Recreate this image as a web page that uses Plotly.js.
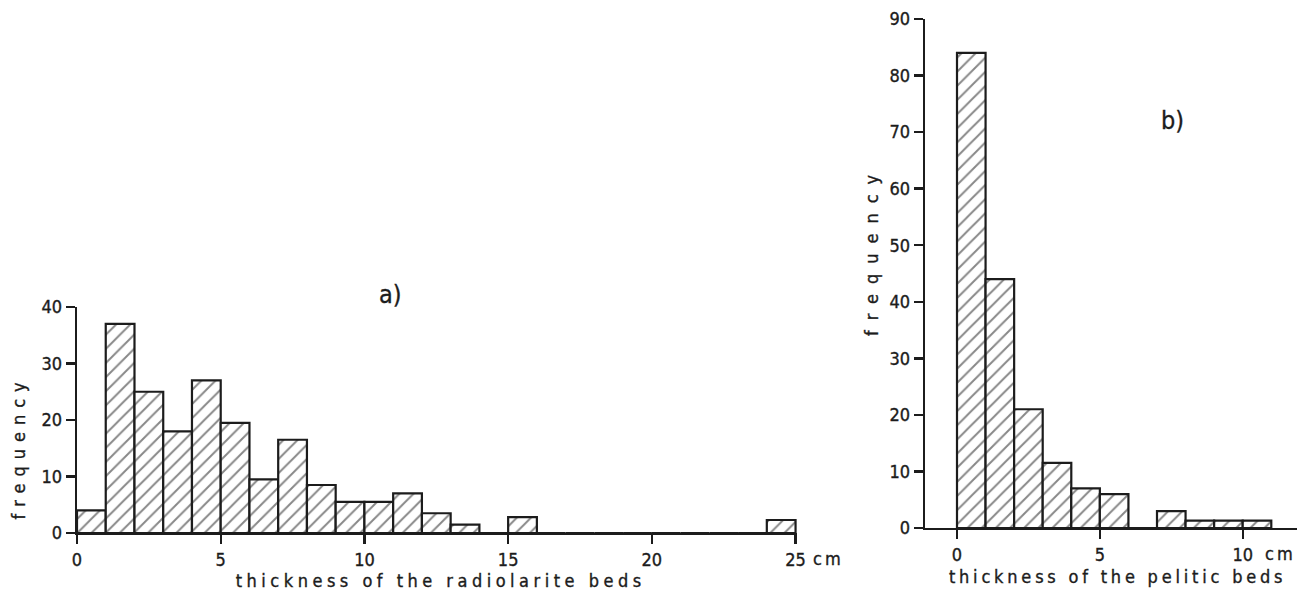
<!DOCTYPE html>
<html>
<head>
<meta charset="utf-8">
<script src="https://cdn.plot.ly/plotly-3.0.1.min.js"></script>
<style>
  html, body { margin: 0; padding: 0; background: #fff; }
  #chart { width: 1309px; height: 592px; }
  #chart text { stroke: #1c1c1c; stroke-width: 0.35px; }
  .annotation[data-index="0"] .annotation-text { letter-spacing: 4.5px; }
  .annotation[data-index="1"] .annotation-text { letter-spacing: 3.8px; }
  .annotation[data-index="2"] .annotation-text { letter-spacing: 7px; }
  .annotation[data-index="3"] .annotation-text { letter-spacing: 10px; }
  .annotation[data-index="6"] .annotation-text,
  .annotation[data-index="7"] .annotation-text { letter-spacing: 3px; }
</style>
</head>
<body>
<div id="chart"></div>
<script>
// ---- data (a): radiolarite bed thickness, 1 cm bins ----
const radioBinStart = [0,1,2,3,4,5,6,7,8,9,10,11,12,13,14,15,16,17,18,19,20,21,22,23,24];
const radioFreq     = [4,37,25,18,27,19.5,9.5,16.5,8.5,5.5,5.5,7,3.5,1.5,0,2.8,0,0,0,0,0,0,0,0,2.3];
const radioTickVals = [0,5,10,15,20,25];
const radioTickText = ["0","5","10","15","20","25"];
const radioYTicks   = [0,10,20,30,40];

// ---- data (b): pelitic bed thickness, 1 cm bins ----
const peliBinStart = [0,1,2,3,4,5,6,7,8,9,10];
const peliFreq     = [84,44,21,11.5,7,6,0,3,1.3,1.3,1.3];
const peliTickVals = [0,5,10];
const peliTickText = ["0","5","10"];
const peliYTicks   = [0,10,20,30,40,50,60,70,80,90];

const INK = '#1c1c1c';
const FONT = '"DejaVu Sans Condensed", "DejaVu Sans", sans-serif';
const W = 1309, H = 592;
const px = v => v / W;
const py = v => 1 - v / H;

const hatch = {shape: '/', size: 10, solidity: 0.2, fgcolor: '#111', bgcolor: '#fff', fillmode: 'overlay'};

const traces = [
  {
    type: 'bar', xaxis: 'x', yaxis: 'y',
    x: radioBinStart.map(b => b + 0.5), y: radioFreq, width: 1,
    marker: {color: '#fff', pattern: hatch, line: {color: INK, width: 2.2}},
    hoverinfo: 'skip'
  },
  {
    type: 'bar', xaxis: 'x2', yaxis: 'y2',
    x: peliBinStart.map(b => b + 0.5), y: peliFreq, width: 1,
    marker: {color: '#fff', pattern: hatch, line: {color: INK, width: 2.2}},
    hoverinfo: 'skip'
  }
];

const axisCommon = {
  showline: true, linecolor: INK, linewidth: 2.4,
  ticks: 'outside', ticklen: 9, tickwidth: 2.4, tickcolor: INK,
  showgrid: false, zeroline: false, fixedrange: true,
  tickfont: {family: FONT, size: 18, color: INK}
};

const layout = {
  width: W, height: H,
  margin: {l: 0, r: 0, t: 0, b: 0},
  paper_bgcolor: '#fff', plot_bgcolor: 'rgba(0,0,0,0)',
  showlegend: false, bargap: 0,
  xaxis: Object.assign({}, axisCommon, {
    domain: [px(77), px(797)], range: [0, 25.05], anchor: 'y',
    tickmode: 'array', tickvals: radioTickVals, ticktext: radioTickText
  }),
  yaxis: Object.assign({}, axisCommon, {
    domain: [1 - 533 / H, 1 - 307 / H], range: [0, 40], anchor: 'x',
    tickmode: 'array', tickvals: radioYTicks
  }),
  xaxis2: Object.assign({}, axisCommon, {
    domain: [px(925), px(1297)], range: [-1.12, 11.9], anchor: 'y2',
    tickmode: 'array', tickvals: peliTickVals, ticktext: peliTickText
  }),
  yaxis2: Object.assign({}, axisCommon, {
    domain: [1 - 528 / H, 1 - 19 / H], range: [0, 90], anchor: 'x2',
    tickmode: 'array', tickvals: peliYTicks
  }),
  annotations: [
    {text: 'thickness of the radiolarite beds', xref: 'paper', yref: 'paper',
     x: px(440), y: py(580), xanchor: 'center', yanchor: 'middle', showarrow: false,
     font: {family: FONT, size: 18, color: INK}},
    {text: 'thickness of the pelitic beds', xref: 'paper', yref: 'paper',
     x: px(1117), y: py(576), xanchor: 'center', yanchor: 'middle', showarrow: false,
     font: {family: FONT, size: 18, color: INK}},
    {text: 'frequency', xref: 'paper', yref: 'paper', textangle: -90,
     x: px(18), y: py(447), xanchor: 'center', yanchor: 'middle', showarrow: false,
     font: {family: FONT, size: 18, color: INK}},
    {text: 'frequency', xref: 'paper', yref: 'paper', textangle: -90,
     x: px(871), y: py(250), xanchor: 'center', yanchor: 'middle', showarrow: false,
     font: {family: FONT, size: 18, color: INK}},
    {text: 'a)', xref: 'paper', yref: 'paper',
     x: px(390), y: py(295), xanchor: 'center', yanchor: 'middle', showarrow: false,
     font: {family: FONT, size: 25, color: INK}},
    {text: 'b)', xref: 'paper', yref: 'paper',
     x: px(1172), y: py(120), xanchor: 'center', yanchor: 'middle', showarrow: false,
     font: {family: FONT, size: 25, color: INK}},
    {text: 'cm', xref: 'paper', yref: 'paper',
     x: px(814), y: py(558), xanchor: 'left', yanchor: 'middle', showarrow: false,
     font: {family: FONT, size: 18, color: INK}},
    {text: 'cm', xref: 'paper', yref: 'paper',
     x: px(1266), y: py(553), xanchor: 'left', yanchor: 'middle', showarrow: false,
     font: {family: FONT, size: 18, color: INK}}
  ]
};

Plotly.newPlot('chart', traces, layout, {staticPlot: true, displayModeBar: false});
</script>
</body>
</html>
